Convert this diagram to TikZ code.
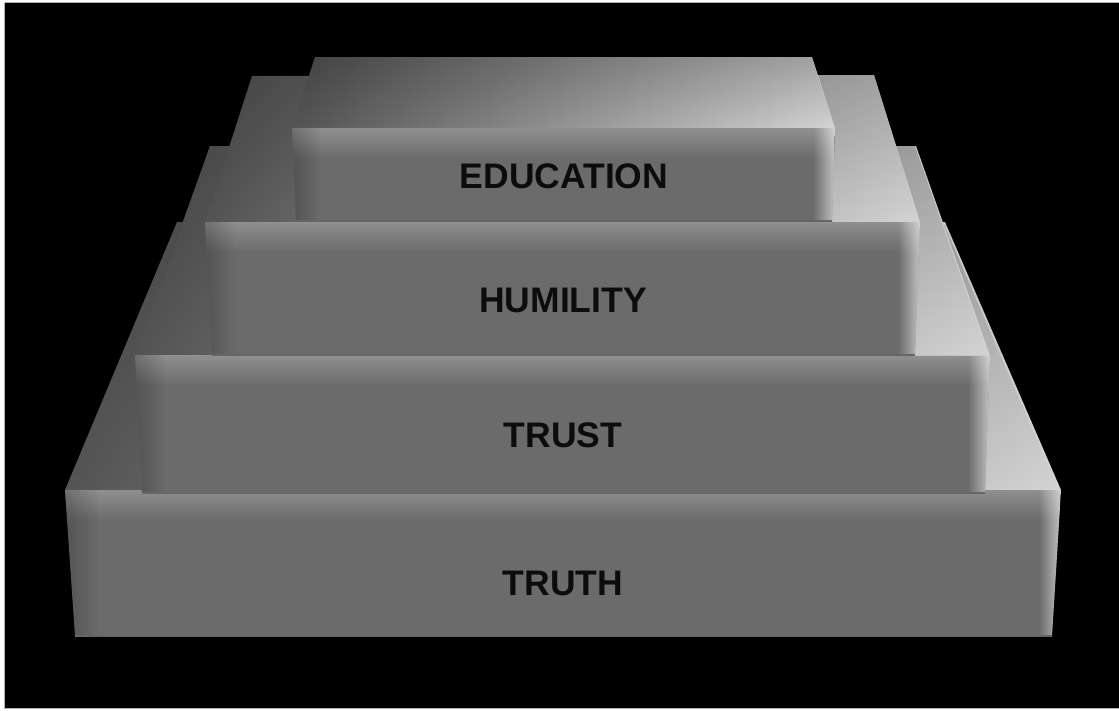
\documentclass[tikz,border=0pt]{standalone}
\usepackage{fontspec}
\setmainfont{Liberation Sans}
\usetikzlibrary{calc,fadings}
\definecolor{face}{HTML}{6B6B6B}
\definecolor{topL}{HTML}{545454}
\definecolor{topM}{HTML}{939393}
\definecolor{topR}{HTML}{D4D4D4}
\definecolor{ink}{HTML}{0C0C0C}
\definecolor{frame}{HTML}{B0B0B0}
\tikzfading[name=opR, left color=transparent!100, right color=transparent!0]
\tikzfading[name=opL, left color=transparent!0, right color=transparent!100]
\tikzfading[name=opT, top color=transparent!0, bottom color=transparent!100]
\tikzset{
  topshade/.style={left color=topL, middle color=topM, right color=topR},
  label/.style={font=\bfseries\fontsize{35.5}{40}\selectfont, text=ink, inner sep=0pt},
  bottomline/.style={draw=black!60, line width=1.2pt}
}
\newcommand\drawtier[1]{%
  \shade[topshade] (#1BL) -- (#1BR) -- (#1FR) -- (#1FL) -- cycle;
  \fill[black, opacity=0.22, path fading=opT] (#1BL) -- (#1BR) -- (#1FR) -- (#1FL) -- cycle;
  \fill[face] (#1FL) -- (#1FR) -- (#1LR) -- (#1LL) -- cycle;
  \begin{scope}
    \clip (#1FL) -- (#1FR) -- (#1LR) -- (#1LL) -- cycle;
    \fill[white, opacity=0.25, path fading=opT] ($(#1FL)+(-10,0)$) rectangle ($(#1FR)+(10,30)$);
    \fill[white, opacity=0.6, path fading=opR] ($(#1FR)+(-22,0)$) rectangle (#1FR |- #1LR);
    \fill[black, opacity=0.22, path fading=opL] (#1FL) rectangle ($(#1LL)+(24,0)$);
  \end{scope}
  \draw[bottomline] (#1LL) -- (#1LR);
}
\begin{document}
\begin{tikzpicture}[x=1pt,y=-1pt]
\useasboundingbox (0,0) rectangle (1119,710);
\fill[white] (0,0) rectangle (1119,710);
\fill[black] (5,3) rectangle (1119,708);
\draw[frame, line width=0.8pt] (4.6,2.6) -- (4.6,708.4) -- (1119,708.4);
\draw[frame, line width=0.8pt] (4.6,2.6) -- (1119,2.6);
% tier a: TRUTH
\coordinate (aBL) at (177,222); \coordinate (aBR) at (945,222);
\coordinate (aFL) at (65,490);  \coordinate (aFR) at (1061,490);
\coordinate (aLL) at (75,636);  \coordinate (aLR) at (1052,636);
% tier b: TRUST
\coordinate (bBL) at (210,146); \coordinate (bBR) at (916,146);
\coordinate (bFL) at (135,355); \coordinate (bFR) at (990,356);
\coordinate (bLL) at (142,493); \coordinate (bLR) at (985,493);
% tier c: HUMILITY
\coordinate (cBL) at (252,76);  \coordinate (cBR) at (874,75);
\coordinate (cFL) at (205,222); \coordinate (cFR) at (920,222);
\coordinate (cLL) at (212,355); \coordinate (cLR) at (915,355);
% tier d: EDUCATION
\coordinate (dBL) at (315,57);  \coordinate (dBR) at (812,57);
\coordinate (dFL) at (292,128); \coordinate (dFR) at (835,128);
\coordinate (dLL) at (296,221); \coordinate (dLR) at (832,221);
\drawtier{a}
\drawtier{b}
\drawtier{c}
\drawtier{d}
\node[label] (truth) at (563,583) {TRUTH};
\node[label] (trust) at (563,435) {TRUST};
\node[label] (humility) at (563,300) {HUMILITY};
\node[label] (education) at (564,176) {EDUCATION};
\end{tikzpicture}
\end{document}
